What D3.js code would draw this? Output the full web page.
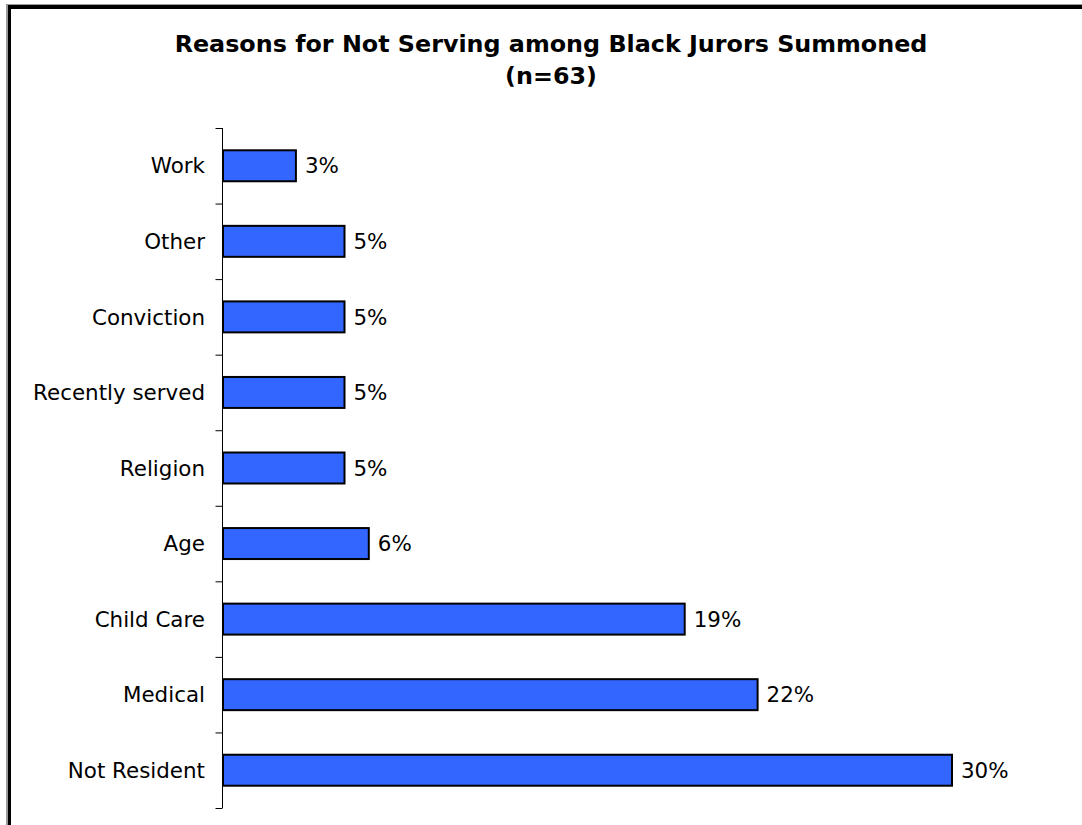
<!DOCTYPE html>
<html>
<head>
<meta charset="utf-8">
<script src="https://cdn.jsdelivr.net/npm/d3@7"></script>
<style>
  html, body { margin: 0; padding: 0; background: #fff; }
  svg { display: block; }
  text { font-family: Tahoma, "DejaVu Sans", Verdana, sans-serif; fill: #000; }
</style>
</head>
<body>
<svg id="chart" width="1082" height="825"></svg>
<script>
// Reasons for not serving, listed top to bottom, in percent of summoned jurors
const categories = ["Work", "Other", "Conviction", "Recently served", "Religion", "Age", "Child Care", "Medical", "Not Resident"];
const values = [3, 5, 5, 5, 5, 6, 19, 22, 30];
const valueLabels = ["3%", "5%", "5%", "5%", "5%", "6%", "19%", "22%", "30%"];
const titleLines = ["Reasons for Not Serving among Black Jurors Summoned", "(n=63)"];

const svg = d3.select("#chart");

// Outer frame (open on the right and bottom): thin grey edge, heavy black band
const frame = svg.append("g").attr("shape-rendering", "crispEdges");
frame.append("rect").attr("x", 6).attr("y", 4).attr("width", 1076).attr("height", 1).attr("fill", "#999");
frame.append("rect").attr("x", 6).attr("y", 4).attr("width", 2).attr("height", 821).attr("fill", "#999");
frame.append("rect").attr("x", 8).attr("y", 5).attr("width", 1074).attr("height", 4).attr("fill", "#000");
frame.append("rect").attr("x", 8).attr("y", 5).attr("width", 3).attr("height", 820).attr("fill", "#000");

// fit a text element's font size to a target width
function fitSize(sel, targetWidth, base) {
  sel.style("font-size", base + "px");
  const w = sel.node().getComputedTextLength();
  const size = base * targetWidth / w;
  sel.style("font-size", size + "px");
  return size;
}

// Title
const t1 = svg.append("text")
  .attr("x", 551).attr("y", 52)
  .attr("text-anchor", "middle")
  .style("font-weight", "bold")
  .text(titleLines[0]);
const titleSize = fitSize(t1, 753, 20);
svg.append("text")
  .attr("x", 551).attr("y", 84)
  .attr("text-anchor", "middle")
  .style("font-weight", "bold")
  .style("font-size", titleSize + "px")
  .text(titleLines[1]);

// Scales
const y = d3.scaleBand()
  .domain(categories)
  .range([128, 808])
  .paddingInner(0.59)
  .paddingOuter(0.295);

const x = d3.scaleLinear()
  .domain([0, 30])
  .range([222, 951]);

// Category axis: ticks at band boundaries
const yTicks = d3.scaleLinear().domain([0, categories.length]).range([128, 808]);
svg.append("g")
  .attr("transform", `translate(${x(0)},0)`)
  .call(d3.axisLeft(yTicks)
    .tickValues(d3.range(categories.length + 1))
    .tickSize(7)
    .tickSizeOuter(0)
    .tickFormat(""))
  .call(g => g.selectAll("path, line").attr("stroke", "#000").attr("stroke-width", 1))
  .call(g => g.select(".domain").attr("d", `M0.5,128V808`))
  .call(g => g.selectAll(".tick line").attr("x1", 0.5).attr("x2", -6.5));

// Bars
svg.append("g").selectAll("rect")
  .data(categories)
  .join("rect")
  .attr("x", x(0) + 1)
  .attr("y", d => y(d))
  .attr("width", (d, i) => x(values[i]) - x(0))
  .attr("height", y.bandwidth())
  .attr("fill", "#3366FF")
  .attr("stroke", "#000")
  .attr("stroke-width", 2);

// Category labels
const catLabels = svg.append("g").selectAll("text")
  .data(categories)
  .join("text")
  .attr("x", 205)
  .attr("y", d => y(d) + y.bandwidth() / 2)
  .attr("dy", "0.36em")
  .attr("text-anchor", "end")
  .text(d => d);
const probe = catLabels.filter(d => d === "Recently served");
const labelSize = fitSize(probe, 172, 18);
catLabels.style("font-size", labelSize + "px");

// Value labels
svg.append("g").selectAll("text")
  .data(categories)
  .join("text")
  .attr("x", (d, i) => x(values[i]) + 10)
  .attr("y", d => y(d) + y.bandwidth() / 2)
  .attr("dy", "0.36em")
  .style("font-size", labelSize + "px")
  .text((d, i) => valueLabels[i]);
</script>
</body>
</html>
